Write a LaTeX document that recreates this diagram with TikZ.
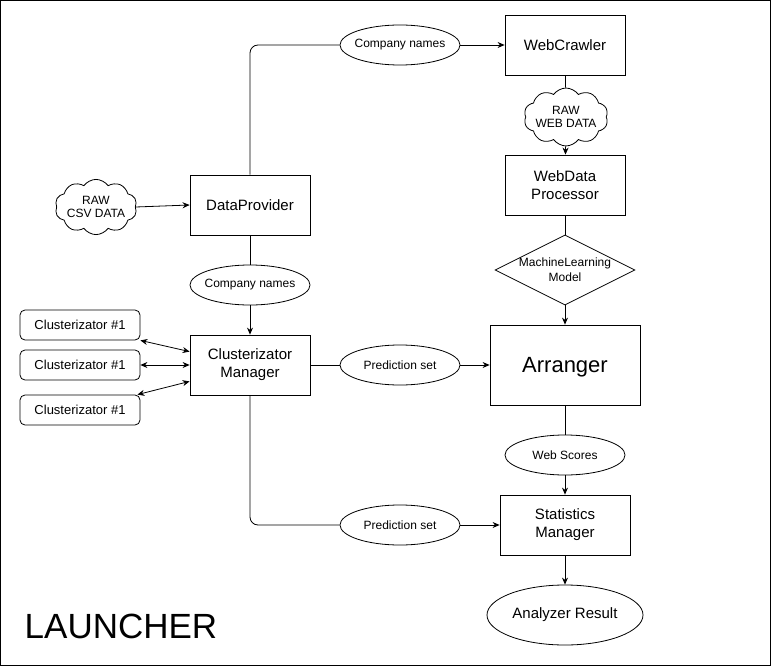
\documentclass[tikz,border=0pt]{standalone}
\usepackage{fontspec}
\setmainfont{Liberation Sans}
\usetikzlibrary{shapes.geometric,shapes.symbols,arrows.meta,calc}
\begin{document}
\begin{tikzpicture}[x=1pt,y=-1pt,
  >={Stealth[length=7pt,width=6pt]},
  line width=0.8pt,
  box/.style={draw, rectangle, minimum width=120pt, minimum height=60pt, inner sep=0pt, align=center, font=\fontsize{15}{18}\selectfont},
  cbox/.style={draw, rectangle, rounded corners=5pt, minimum width=120pt, minimum height=30pt, inner sep=0pt, font=\fontsize{13}{15}\selectfont},
  ell/.style={draw, ellipse, minimum width=120pt, minimum height=40pt, inner xsep=-10pt, inner ysep=0pt, font=\fontsize{12}{14}\selectfont},
  cloudn/.style={draw, cloud, cloud puffs=10, cloud puff arc=110, aspect=1.7, minimum width=82pt, minimum height=50pt, inner sep=-2pt, align=center, font=\fontsize{12}{13}\selectfont},
  rbend/.style={rounded corners=8pt}
]
\useasboundingbox (0,0) rectangle (771,666);
\draw (0.5,0.5) rectangle (770.5,665.5);

% right column
\node[box] (wc) at (565,45) {WebCrawler};
\node[cloudn] (cw) at (566,117) {RAW\\WEB DATA};
\node[box] (wp) at (565,185) {WebData\\Processor};
\node[draw, diamond, minimum width=140pt, minimum height=70pt, inner sep=0pt] (ml) at (565,270) {};
\node[align=center, font=\fontsize{12}{15}\selectfont] (mlt) at (565,270) {MachineLearning\\Model};
\node[box, minimum width=150pt, minimum height=80pt, text depth=1pt, font=\fontsize{22}{26}\selectfont] (ar) at (565,365) {Arranger};
\node[ell] (ws) at (565,455) {Web Scores};
\node[box, minimum width=130pt] (sm) at (565,525) {Statistics\\Manager};
\node[ell, minimum width=156pt, minimum height=60pt, inner xsep=0pt, font=\fontsize{15}{18}\selectfont] (res) at (565,615) {Analyzer Result};

% middle column
\node[ell] (cn1) at (400,45) {Company names};
\node[box] (dp) at (250,205) {DataProvider};
\node[cloudn] (cc) at (96,207) {RAW\\CSV DATA};
\node[ell] (cn2) at (250,285) {Company names};
\node[box] (cm) at (250,365) {Clusterizator\\Manager};
\node[ell] (ps1) at (400,365) {Prediction set};
\node[ell] (ps2) at (400,525) {Prediction set};

% clusterizators
\node[cbox] (c1) at (80,325) {Clusterizator \#1};
\node[cbox] (c2) at (80,365) {Clusterizator \#1};
\node[cbox] (c3) at (80,410) {Clusterizator \#1};

\node[font=\fontsize{35}{40}\selectfont] (la) at (121,626) {LAUNCHER};

% connectors
\draw[rbend] (dp.north) |- (cn1.west);
\draw[->] (cn1) -- (wc);
\draw (wc) -- (cw);
\draw[->] (cw) -- (wp);
\draw (wp) -- (ml.north);
\draw[->] (ml.south) -- (ar);
\draw (ar) -- (ws);
\draw[->] (ws) -- (sm);
\draw[->] (sm) -- (res);
\draw[->] (cc.east) -- (dp.west);
\draw (dp) -- (cn2);
\draw[->] (cn2) -- (cm);
\draw (cm) -- (ps1);
\draw[->] (ps1) -- (ar);
\draw[rbend] (cm.south) |- (ps2.west);
\draw[->] (ps2) -- (sm);
\draw[<->] (c1.south east) -- ($(cm.north west)+(0,17)$);
\draw[<->] (c2.east) -- (cm.west);
\draw[<->] ($(c3.north east)+(-3,0)$) -- ($(cm.south west)+(0,-14)$);
\end{tikzpicture}
\end{document}
